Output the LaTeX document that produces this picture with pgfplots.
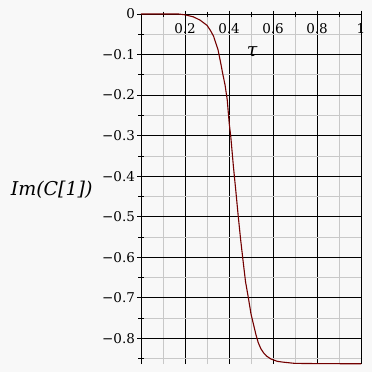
\documentclass[border=0pt]{standalone}
\usepackage{pgfplots}
\pgfplotsset{compat=1.18}
\usepackage{fontspec}
\setmainfont{DejaVu Serif}
\definecolor{bg}{RGB}{248,248,248}
\definecolor{curve}{RGB}{115,0,0}
\definecolor{minorgrid}{RGB}{200,200,200}
\begin{document}
\begin{tikzpicture}[x=1pt,y=1pt]
\fill[bg] (0,0) rectangle (372,372);
\useasboundingbox (0,0) rectangle (372,372);
\begin{axis}[
  at={(141pt,8pt)}, anchor=south west,
  scale only axis, width=220pt, height=350pt,
  xmin=0, xmax=1, ymin=-0.8635, ymax=0,
  axis x line*=top, axis y line*=left,
  axis line style={black, line width=0.7pt},
  xtick={0.2,0.4,0.6,0.8,1},
  xticklabels={0.2,0.4,0.6,0.8,1},
  minor xtick={0.1,0.3,0.5,0.7,0.9},
  ytick={0,-0.1,-0.2,-0.3,-0.4,-0.5,-0.6,-0.7,-0.8},
  yticklabels={0,−0.1,−0.2,−0.3,−0.4,−0.5,−0.6,−0.7,−0.8},
  minor ytick={-0.05,-0.15,-0.25,-0.35,-0.45,-0.55,-0.65,-0.75,-0.85},
  grid=both,
  major grid style={black, line width=0.7pt},
  minor grid style={minorgrid, line width=0.7pt},
  tick align=center,
  major tick length=7pt, minor tick length=5pt,
  tick style={black, line width=0.7pt},
  tick label style={font=\fontsize{13.5}{15}\selectfont},
  xticklabel style={anchor=north, yshift=-9pt},
  yticklabel style={anchor=east, xshift=1pt},
  every axis x label/.style={at={(axis cs:0.505,-0.094)}, anchor=center},
  every axis y label/.style={at={(axis cs:-0.406,-0.433)}, anchor=center},
  xlabel={\fontsize{19}{21}\selectfont\itshape τ},
  ylabel={\fontsize{19}{21}\selectfont\itshape Im(C[1])},
  clip=false,
]
\addplot[curve, line width=1.1pt] coordinates {
(0,0) (0.10,0) (0.17,0) (0.20,-0.002) (0.238,-0.007) (0.268,-0.015)
(0.30,-0.028) (0.315,-0.040) (0.33,-0.055) (0.35,-0.088) (0.362,-0.12)
(0.371,-0.146) (0.382,-0.175) (0.392,-0.212) (0.401,-0.27) (0.408,-0.302)
(0.42,-0.376) (0.432,-0.442) (0.442,-0.499) (0.453,-0.557) (0.465,-0.614)
(0.475,-0.66) (0.488,-0.70) (0.50,-0.74) (0.511,-0.765) (0.522,-0.79)
(0.533,-0.811) (0.545,-0.826) (0.56,-0.838) (0.571,-0.844) (0.59,-0.851)
(0.62,-0.857) (0.647,-0.859) (0.70,-0.862) (0.80,-0.8625) (1.0,-0.863)
};
\end{axis}
\end{tikzpicture}
\end{document}
